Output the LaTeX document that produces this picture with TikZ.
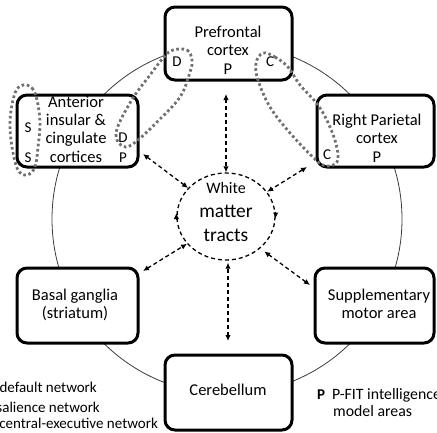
\documentclass[tikz,border=0pt]{standalone}
\usepackage{fontspec}
\setmainfont{Carlito}
\usetikzlibrary{arrows.meta,calc,shapes.geometric}
\definecolor{netgray}{RGB}{112,112,112}
\definecolor{ringgray}{RGB}{60,60,60}
\begin{document}
\begin{tikzpicture}[x=1pt,y=-1pt,
  box/.style={draw=black, line width=3pt, rounded corners=10pt, fill=white, inner sep=0pt},
  txt/.style={align=center, font=\fontsize{16.5}{18.3}\selectfont, inner sep=0pt},
  ltr/.style={font=\fontsize{15}{18}\selectfont, inner sep=0pt},
  leg/.style={font=\fontsize{15}{18}\selectfont, inner sep=0pt, anchor=base east},
  legr/.style={font=\fontsize{15.8}{19}\selectfont, inner sep=0pt, anchor=base west},
  tipstyle/.style={-{Latex[length=6pt,width=5.5pt]}, line width=1.3pt},
  arr/.style={{Latex[length=6pt,width=5.5pt]}-{Latex[length=6pt,width=5.5pt]}, dash pattern=on 4pt off 3pt, line width=1.3pt},
  net/.style={draw=netgray, line width=2.8pt, dash pattern=on 2.6pt off 2.6pt}
]
\useasboundingbox (0,0) rectangle (437,432);

% ring
\draw[ringgray, line width=0.8pt] (227,219) circle[radius=175];

% boxes
\node[box, minimum width=127pt, minimum height=73pt] (pf)  at (228.5,43.5) {};
\node[box, minimum width=121pt, minimum height=72pt] (ant) at (77.5,131) {};
\node[box, minimum width=117pt, minimum height=72pt] (rp)  at (375.5,131) {};
\node[box, minimum width=121pt, minimum height=75pt] (bg)  at (77.5,305.5) {};
\node[box, minimum width=119pt, minimum height=75pt] (sma) at (374.5,305.5) {};
\node[box, minimum width=127pt, minimum height=75pt] (cb)  at (228.5,392.5) {};

% box texts
\node[txt] (pft)  at (228,50)  {Prefrontal\\cortex\\P};
\node[txt] (antt) at (76,129)  {Anterior\\insular \&\\cingulate\\cortices};
\node[txt] (rpt)  at (377,138) {Right Parietal\\cortex\\P};
\node[txt] (bgt)  at (75,305)  {Basal ganglia\\(striatum)};
\node[txt] (smat) at (379,304) {Supplementary\\motor area};
\node[txt] (cbt)  at (228,390) {Cerebellum};

% white matter
\node[draw, ellipse, minimum width=98pt, minimum height=87pt, inner sep=0pt,
      line width=1.3pt, dash pattern=on 4pt off 3pt] (wm) at (226,216.5) {};
\node[align=center, inner sep=0pt, font=\fontsize{19.5}{24}\selectfont] (wmt) at (226,212)
  {{\fontsize{16}{24}\selectfont White}\\matter\\tracts};
\draw[tipstyle] ($(wm.east)+(0,-5)$) -- ($(wm.east)+(0,2)$);
\draw[tipstyle] ($(wm.west)+(0,3.5)$) -- ($(wm.west)+(0,-3.5)$);

% connectors
\coordinate (c1) at (226,94);
\coordinate (c2) at (143,154);
\coordinate (c3) at (307,167);
\coordinate (c4) at (143,271);
\coordinate (c5) at (310,285);
\coordinate (c6) at (228,341);
\draw[arr] (c1) -- (wm.north);
\draw[arr] (c2) -- (wm.143);
\draw[arr] (c3) -- (wm.31);
\draw[arr] (c4) -- (wm.215);
\draw[arr, shorten >=5pt] (c5) -- (wm.317);
\draw[arr, shorten >=2pt] (c6) -- (c6 |- wm.south);

% network letters
\node[ltr] (dpf)  at (177,62)  {D};
\node[ltr] (cpf)  at (270,62)  {C};
\node[ltr] (dant) at (123,138) {D};
\node[ltr] (pant) at (123,158) {P};
\node[ltr] (s1)   at (28,128)  {S};
\node[ltr] (s2)   at (28,158)  {S};
\node[ltr] (crp)  at (327,155) {C};

% network outlines
\draw[net] plot[smooth cycle, tension=0.6] coordinates {
  (173,50) (187,50) (192,60) (190,72) (180,97) (157,122) (138,140)
  (126,147) (117,140) (118,126) (133,98) (150,75) (164,57)};
\draw[net] plot[smooth cycle, tension=0.6] coordinates {
  (263,53) (275,57) (288,67) (300,85) (318,105) (330,127) (337,148)
  (337,162) (327,166) (316,160) (290,133) (270,107) (258,80) (256,63)};
\draw[net] plot[smooth cycle, tension=0.6] coordinates {
  (23,85) (32,88) (37,100) (40,123) (38,147) (35,167) (27,175)
  (18,170) (12,147) (10,120) (15,93)};

% legends
\node[leg] (l1) at (97,392)  {default network};
\node[leg] (l2) at (100,412) {salience network};
\node[leg] (l3) at (158,428) {central-executive network};
\node[legr, font=\bfseries\fontsize{15}{18}\selectfont] (lp) at (317,399) {P};
\node[legr] (lp1) at (332,399) {P-FIT intelligence};
\node[legr] (lp2) at (333,416) {model areas};
\end{tikzpicture}
\end{document}
